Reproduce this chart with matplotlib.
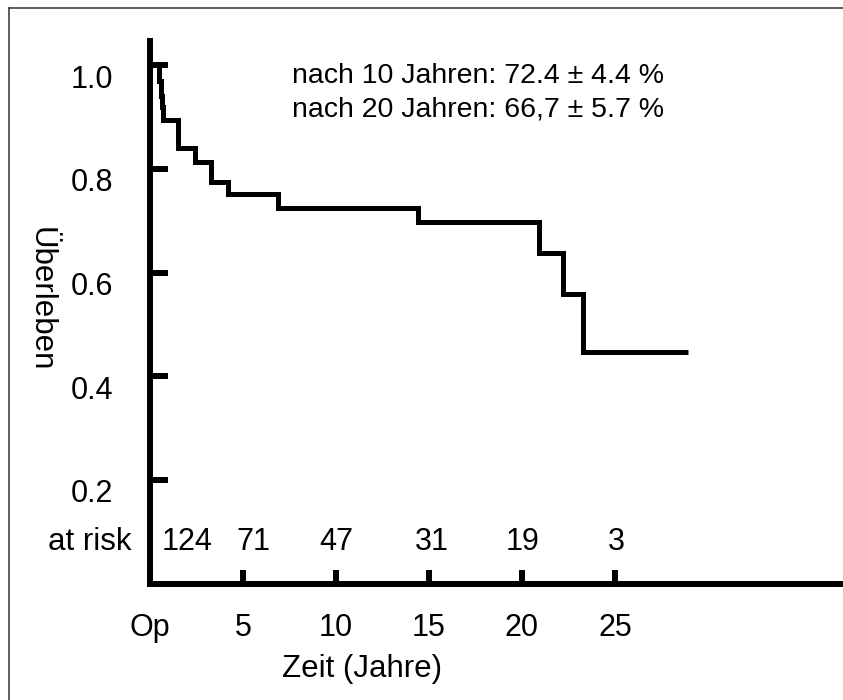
import matplotlib
matplotlib.use('Agg')
import matplotlib.pyplot as plt
from matplotlib.transforms import ScaledTranslation

plt.rcParams['font.family'] = ['Liberation Sans', 'DejaVu Sans']

# Kaplan-Meier curve (years, survival)
times = [0, 0.5, 0.57, 0.63, 0.7, 1.5, 2.4, 3.3, 4.2, 6.9, 14.4, 20.9, 22.2, 23.3, 28.9]
surv = [1.0, 0.97, 0.94, 0.92, 0.894, 0.84, 0.813, 0.774, 0.751, 0.724, 0.697, 0.638, 0.559, 0.447, 0.447]

x_ticks = [0, 5, 10, 15, 20, 25]
x_ticklabels = ['Op', '5', '10', '15', '20', '25']
y_ticks = [0.2, 0.4, 0.6, 0.8, 1.0]
y_ticklabels = ['0.2', '0.4', '0.6', '0.8', '1.0']

risk_times = [0, 5, 10, 15, 20, 25]
risk_counts = [124, 71, 47, 31, 19, 3]
risk_nudge_px = [37, 10, 0, 3, 1, 1]

notes = ['nach 10 Jahren: 72.4 \u00b1 4.4 %', 'nach 20 Jahren: 66,7 \u00b1 5.7 %']

FS = 22

fig = plt.figure(figsize=(8.43, 7.0), dpi=100)
ax = fig.add_axes([150 / 843, 116.25 / 700, 693 / 843, 542.75 / 700])

ax.step(times, surv, where='post', color='black', lw=3.6,
        solid_joinstyle='miter', solid_capstyle='butt')

ax.set_xlim(0, 693 / 18.6)
ax.set_ylim(0, 542.75 / 518.75)

for s in ['top', 'right']:
    ax.spines[s].set_visible(False)
for s in ['left', 'bottom']:
    ax.spines[s].set_linewidth(4.3)
    ax.spines[s].set_capstyle('projecting')

ax.set_xticks(x_ticks)
ax.set_xticklabels(x_ticklabels)
ax.set_yticks(y_ticks)
ax.set_yticklabels(y_ticklabels)
ax.tick_params(axis='x', direction='in', length=10, width=4.3, pad=21.0, labelsize=FS)
ax.tick_params(axis='y', direction='in', length=13, width=4.3, pad=26.6, labelsize=FS)

shift = ScaledTranslation(0, -11 / 100, fig.dpi_scale_trans)
for lab in ax.get_yticklabels():
    lab.set_transform(lab.get_transform() + shift)

ax.set_ylabel('\u00dcberleben', fontsize=FS + 0.5, rotation=270, va='center', ha='center')
ax.yaxis.set_label_coords(-0.158, 0.525)
ax.set_xlabel('Zeit (Jahre)', fontsize=FS + 0.5, va='center', ha='center')
ax.xaxis.set_label_coords(0.306, -0.157)

# at-risk row
ax.text(-1.0, 0.065, 'at risk', fontsize=FS + 0.5, ha='right', va='baseline', clip_on=False)
for t, n, dx in zip(risk_times, risk_counts, risk_nudge_px):
    off = ScaledTranslation(dx / 100, 0, fig.dpi_scale_trans)
    ax.text(t, 0.065, str(n), fontsize=FS, ha='center', va='baseline',
            transform=ax.transData + off)

ax.text(7.63, 0.965, notes[0], fontsize=20.5, ha='left', va='baseline')
ax.text(7.63, 0.900, notes[1], fontsize=20.5, ha='left', va='baseline')

# outer frame (only left and top edges are inside the picture)
fig.add_artist(plt.Line2D([9 / 843, 9 / 843], [0, 692 / 700], color='#333333', lw=1.1,
                          transform=fig.transFigure))
fig.add_artist(plt.Line2D([9 / 843, 1], [692 / 700, 692 / 700], color='#333333', lw=1.1,
                          transform=fig.transFigure))

fig.savefig('out.png', dpi=100)
